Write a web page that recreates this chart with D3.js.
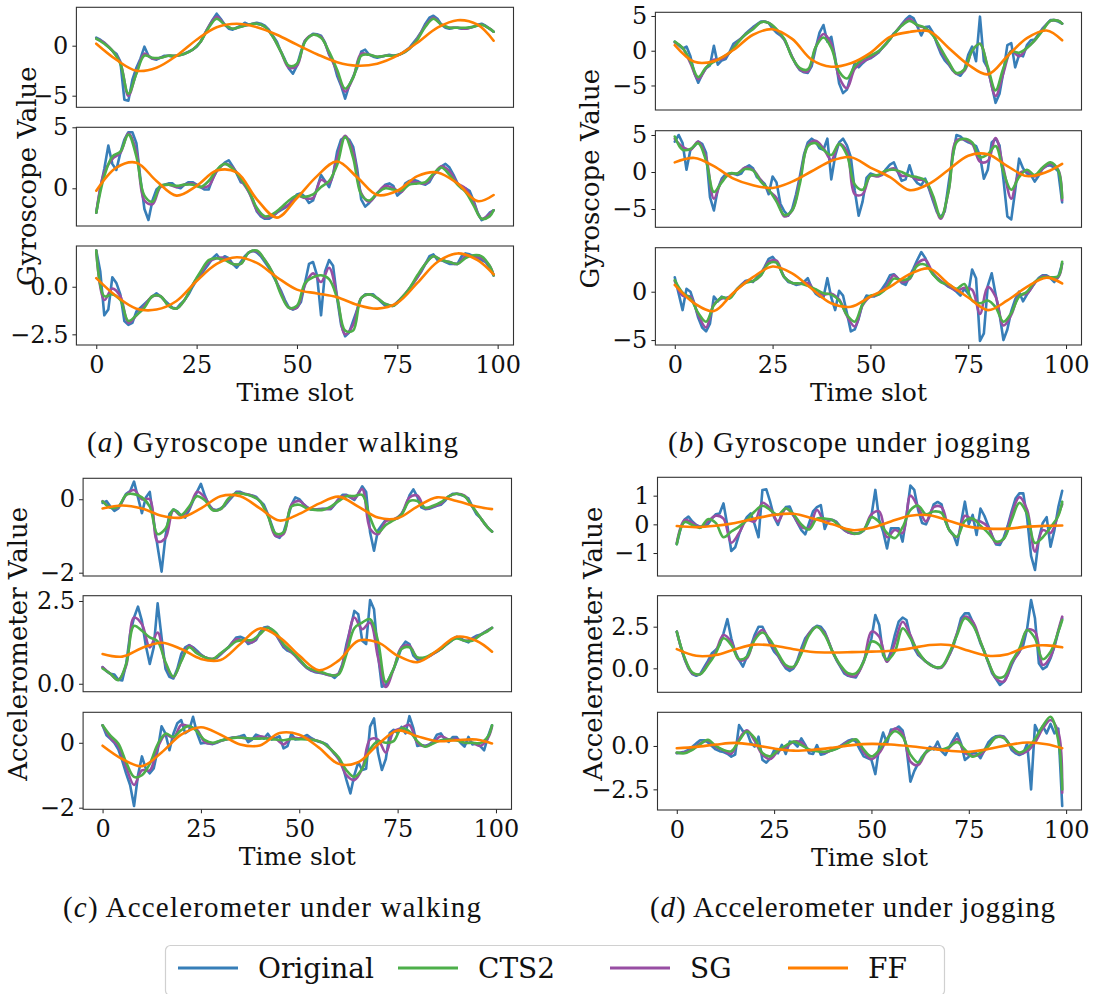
<!DOCTYPE html>
<html>
<head>
<meta charset="utf-8">
<script src="https://cdn.jsdelivr.net/npm/d3@7"></script>
<style>
  body { margin: 0; background: #fff; }
  svg { display: block; }
</style>
</head>
<body>
<svg id="chart" width="1119" height="994"></svg>
<script>
// ---------- time axes ----------
// Original signal: every slot; SG / CTS2 smoothed outputs: every 2nd slot (+ last);
// FF (Fourier filter) output: every 5th slot (+ last).
const slotsAll = d3.range(100);
const slotsHalf = d3.range(0, 100, 2).concat([99]);
const slotsFifth = d3.range(0, 100, 5).concat([99]);
const xTicks = [0, 25, 50, 75, 100];

// ---------- (a) gyroscope, walking ----------
const gyroWalk1_orig = [0.8,0.6,0.3,-0.1,-0.5,-0.8,-1.6,-5.4,-5.5,-3.4,
 -2.2,-1.3,-0.1,-1.0,-1.3,-1.4,-1.2,-1.0,-1.0,-1.1,
 -1.0,-0.9,-0.8,-0.6,-0.4,-0.1,0.4,1.2,1.9,2.6,
 3.2,2.7,2.1,1.7,1.6,1.8,2.0,2.3,2.1,2.2,
 2.3,2.2,2.0,1.6,1.0,0.4,-0.6,-1.4,-2.3,-2.8,
 -2.0,-0.6,0.5,0.9,1.2,1.15,1.0,0.3,-0.9,-1.5,
 -3.0,-4.0,-5.3,-4.0,-3.1,-2.2,-0.6,-0.4,-0.9,-1.1,
 -1.2,-1.1,-1.0,-0.9,-1.0,-1.0,-0.8,-0.5,-0.2,0.3,
 0.8,1.4,2.2,2.8,3.0,2.7,2.1,1.8,1.7,1.8,
 1.8,1.7,1.7,1.8,1.9,2.1,2.2,2.0,1.7,1.4];
const gyroWalk1_sg = [0.7,0.3,-0.5,-1.7,-5.0,-2.7,-0.8,-1.3,-1.2,-1.0,
 -1.0,-0.8,-0.4,0.4,1.9,2.9,2.1,1.7,1.9,2.1,
 2.2,1.9,0.9,-0.6,-2.2,-2.0,0.5,1.1,0.9,-0.8,
 -2.6,-4.6,-3.2,-0.8,-0.9,-1.1,-1.0,-1.0,-0.8,-0.3,
 0.7,2.0,2.8,2.1,1.8,1.8,1.7,1.9,2.1,1.7,1.4];
const gyroWalk1_cts2 = [0.7,0.2,-0.5,-1.8,-4.8,-2.8,-1.0,-1.2,-1.2,-1.0,
 -1.0,-0.8,-0.4,0.4,1.8,2.7,2.1,1.7,1.9,2.1,
 2.2,1.9,0.9,-0.6,-2.0,-1.8,0.4,1.1,0.8,-0.6,
 -2.4,-4.3,-3.2,-1.0,-0.9,-1.1,-1.0,-1.0,-0.8,-0.3,
 0.6,1.9,2.7,2.1,1.8,1.8,1.8,1.9,2.1,1.7,1.4];
const gyroWalk1_ff = [0.2,-1.4,-2.5,-2.2,-1.0,0.6,1.85,2.2,1.85,1.1,0.1,-0.85,-1.65,-2.0,-1.8,-1.0,0.3,1.8,2.55,2.1,0.5];

const gyroWalk2_orig = [-2.0,0.0,1.6,3.5,2.0,1.5,2.9,4.0,4.6,4.6,
 3.7,0.8,-1.7,-2.6,-1.0,-0.1,0.2,0.3,0.4,0.4,
 0.1,0.0,0.3,0.5,0.5,0.3,0.1,-0.1,-0.1,0.8,
 1.4,1.8,2.1,2.3,1.8,1.2,0.5,0.4,-0.3,-0.9,
 -1.9,-2.3,-2.5,-2.5,-2.3,-2.0,-1.8,-1.6,-1.4,-1.1,
 -0.5,-0.4,-0.7,-1.2,-1.0,0.0,1.1,0.6,0.1,1.1,
 3.0,4.0,4.2,4.0,3.4,1.6,-0.9,-1.5,-1.2,-0.8,
 -0.4,-0.1,0.3,0.4,0.2,-0.6,-0.3,0.4,0.6,0.7,
 0.6,0.4,0.3,0.5,1.1,1.4,1.8,2.0,1.7,1.1,
 0.4,0.0,0.0,-0.2,-1.0,-2.0,-2.6,-2.4,-2.0,-1.8];
const gyroWalk2_sg = [-2.0,1.3,2.4,2.9,4.5,3.0,-1.0,-1.3,0.1,0.3,
 0.1,0.3,0.4,0.1,0.2,1.4,2.0,1.7,0.7,-0.3,
 -1.8,-2.4,-2.2,-1.7,-1.3,-0.6,-0.8,-0.8,0.7,0.4,
 2.5,4.3,3.0,-0.4,-1.1,-0.4,0.2,0.0,-0.3,0.5,
 0.5,0.4,1.1,1.8,1.4,0.4,0.0,-1.2,-2.5,-2.1,-1.8];
const gyroWalk2_cts2 = [-2.0,1.0,2.6,3.0,4.4,2.6,-0.6,-1.1,0.2,0.3,
 0.2,0.3,0.3,0.1,0.6,1.5,2.0,1.6,0.8,-0.2,
 -1.6,-2.3,-2.1,-1.6,-1.0,-0.6,-0.7,-0.5,0.1,0.6,
 1.9,4.2,2.5,-0.5,-1.0,-0.4,0.0,-0.1,-0.2,0.3,
 0.4,0.5,1.2,1.7,1.1,0.3,-0.3,-1.4,-2.5,-2.3,-1.8];
const gyroWalk2_ff = [-0.2,1.7,2.1,0.6,-0.6,0.2,1.45,1.3,-0.9,-2.4,-0.8,1.0,2.2,0.9,-0.55,-0.2,1.0,1.3,0.4,-1.05,-0.55];

const gyroWalk3_orig = [1.9,0.8,-1.5,-1.2,0.5,0.2,-0.4,-1.8,-2.0,-1.9,
 -1.3,-1.1,-0.9,-0.7,-0.5,-0.35,-0.5,-0.7,-0.9,-1.1,
 -1.15,-0.9,-0.7,-0.4,0.0,0.35,0.6,0.9,1.2,1.5,
 1.7,1.4,1.6,1.5,1.2,1.0,1.3,1.6,1.8,1.9,
 1.8,1.6,1.3,1.0,0.6,0.2,-0.2,-0.7,-1.1,-1.2,
 -1.1,-0.8,0.2,1.2,1.3,0.6,-1.5,0.8,1.4,1.1,
 -0.6,-2.0,-2.6,-2.4,-1.8,-1.2,-0.6,-0.4,-0.4,-0.4,
 -0.6,-0.8,-1.0,-1.0,-1.0,-0.8,-0.6,-0.4,-0.1,0.2,
 0.5,0.8,1.2,1.6,1.7,1.4,1.4,1.3,1.2,1.2,
 1.2,1.6,1.75,1.7,1.6,1.5,1.4,1.3,1.0,0.6];
const gyroWalk3_sg = [1.9,-0.7,-0.1,-0.5,-1.9,-1.5,-1.0,-0.5,-0.5,-1.0,
 -1.15,-0.7,0.1,0.7,1.3,1.5,1.5,1.2,1.2,1.8,
 1.85,1.4,0.7,-0.3,-1.1,-1.1,0.1,0.7,0.25,1.0,
 -0.5,-2.5,-2.0,-0.6,-0.4,-0.6,-0.9,-1.0,-0.6,-0.1,
 0.5,1.2,1.6,1.4,1.3,1.2,1.6,1.6,1.5,1.1,0.6];
const gyroWalk3_cts2 = [1.9,-0.5,-0.4,-0.7,-1.8,-1.5,-1.1,-0.5,-0.5,-1.0,
 -1.15,-0.7,0.1,0.8,1.4,1.5,1.4,1.2,1.2,1.8,
 1.9,1.4,0.7,-0.4,-1.1,-1.0,0.2,0.5,0.6,0.4,
 -0.6,-2.3,-2.3,-0.6,-0.4,-0.6,-0.9,-1.0,-0.6,-0.1,
 0.6,1.2,1.6,1.4,1.3,1.2,1.5,1.65,1.6,1.1,0.6];
const gyroWalk3_ff = [0.45,-0.5,-1.15,-1.2,-0.75,0.3,1.2,1.55,1.25,0.5,-0.15,-0.35,-0.55,-0.95,-1.15,-0.85,0.2,1.3,1.75,1.4,0.65];

// ---------- (b) gyroscope, jogging ----------
const gyroJog1_orig = [1.3,0.8,0.3,0.6,-0.8,-3.2,-4.6,-3.4,-2.5,-2.1,
 0.7,-2.0,-1.4,-1.2,-0.2,1.0,1.4,1.8,2.4,2.9,
 3.4,3.8,4.2,4.2,4.0,3.2,2.6,2.2,1.6,0.4,
 -0.9,-2.0,-2.8,-3.1,-3.2,-2.2,0.3,2.6,3.7,1.3,
 2.0,-1.0,-4.7,-6.1,-5.6,-3.6,-1.8,-2.4,-1.8,-1.3,
 -1.1,-0.7,-0.3,0.4,1.0,1.7,2.5,3.0,3.8,4.5,
 5.0,4.7,3.5,2.2,3.4,3.5,2.6,1.0,-0.4,-1.4,
 -2.0,-2.8,-3.3,-3.6,-2.8,-0.6,0.6,-1.5,4.9,-1.5,
 -2.5,-5.0,-7.5,-6.2,-3.0,0.8,1.1,-2.4,-0.6,-0.8,
 0.8,1.5,1.6,2.4,3.2,3.8,4.4,4.4,4.2,3.9];
const gyroJog1_sg = [1.2,0.4,-1.8,-4.1,-2.5,-1.3,-1.2,-0.3,1.2,2.3,
 3.2,4.1,4.0,3.0,1.6,-0.9,-2.7,-3.0,0.5,2.4,
 1.0,-3.8,-5.4,-2.6,-1.6,-1.0,-0.2,1.0,2.4,3.7,
 4.6,3.6,3.3,2.3,0.0,-1.8,-3.3,-2.9,0.0,1.0,
 -2.6,-6.5,-3.2,0.0,-0.8,0.4,1.5,3.0,4.3,4.3,3.9];
const gyroJog1_cts2 = [1.3,0.4,-1.5,-3.8,-2.4,-1.6,-1.0,-0.3,1.1,2.3,
 3.1,4.1,4.0,3.1,1.7,-1.0,-2.5,-2.7,0.5,1.9,
 0.4,-3.0,-4.0,-2.2,-1.2,-0.7,-0.1,1.0,2.4,3.6,
 4.3,3.7,3.3,2.2,0.3,-1.6,-3.2,-2.7,0.0,1.0,
 -2.3,-5.7,-2.5,-0.1,-0.3,0.4,1.5,2.9,4.3,4.3,3.9];
const gyroJog1_ff = [0.8,-1.6,-1.5,0.1,2.3,3.1,1.7,-1.3,-2.3,-1.8,-0.3,2.0,2.7,2.8,0.4,-2.0,-3.4,-0.8,1.8,2.9,1.5];

const gyroJog2_orig = [4.1,5.0,3.9,0.3,3.0,3.5,4.1,3.8,2.6,-3.4,
 -5.2,-2.3,-0.9,-0.3,-0.2,-0.2,-0.4,-0.2,0.6,0.9,
 0.5,-0.7,-1.1,-1.6,-3.0,-0.6,-1.4,-4.3,-5.3,-5.9,
 -5.0,-3.0,-0.5,2.3,4.0,4.5,4.1,3.2,3.0,4.5,
 -1.0,2.2,4.0,4.5,3.6,2.0,-2.5,-5.9,-4.0,-0.8,
 -0.2,-0.4,-0.5,-0.4,0.4,1.0,1.3,0.0,-1.2,-1.0,
 0.9,-0.8,-1.5,-1.8,-0.9,-2.3,-3.9,-5.4,-6.1,-5.3,
 -1.5,2.0,5.0,4.8,4.3,4.0,3.8,3.5,2.2,-0.9,
 0.3,4.0,4.5,3.6,-1.0,-6.0,-6.4,-2.5,1.8,0.5,
 -0.2,-0.4,-1.3,-0.5,0.5,0.8,0.9,0.6,0.1,-4.1];
const gyroJog2_sg = [4.5,3.4,3.0,4.1,2.0,-3.6,-1.2,-0.3,-0.2,0.6,
 0.3,-1.1,-2.5,-3.5,-6.0,-5.2,-1.0,3.6,4.2,3.2,
 1.6,3.8,2.8,-3.0,-3.0,-0.5,-0.6,0.1,0.5,-0.5,
 -0.5,-1.0,-1.2,-3.6,-6.3,-2.5,4.3,4.4,3.8,1.4,
 1.5,4.6,0.5,-3.6,-0.2,0.1,-0.6,0.4,1.1,0.3,-3.8];
const gyroJog2_cts2 = [4.8,3.0,3.1,3.9,1.5,-2.7,-1.4,-0.2,-0.2,0.4,
 0.2,-1.3,-2.4,-4.0,-5.8,-5.2,-1.5,3.5,3.9,3.0,
 2.3,3.8,2.3,-1.7,-2.4,-0.5,-0.4,0.2,0.3,0.0,
 -0.5,-0.7,-1.1,-3.2,-6.1,-2.5,4.0,4.5,4.0,2.0,
 2.4,3.5,0.0,-2.4,-0.7,0.3,-0.4,0.6,1.3,0.2,-3.5];
const gyroJog2_ff = [1.3,1.9,0.8,-0.9,-1.8,-2.15,-1.3,0.1,1.5,2.0,0.6,-0.7,-2.45,-1.6,0.3,2.2,2.4,0.8,-0.55,0.0,1.1];

const gyroJog3_orig = [1.5,-0.2,-1.9,0.3,0.0,-1.2,-2.7,-3.7,-4.1,-3.3,
 -0.5,-1.0,-0.5,-0.7,-0.5,-0.2,0.3,0.7,1.1,1.2,
 1.0,1.5,1.9,2.6,3.4,3.6,3.1,2.3,1.5,1.0,
 0.9,0.7,0.8,1.0,1.4,0.4,-0.2,-0.5,-0.6,1.4,
 -0.6,-1.9,0.1,-0.4,-2.2,-4.1,-3.9,-2.8,-1.2,-0.4,
 -0.5,-0.5,-0.2,0.3,0.9,1.7,1.8,1.4,0.9,0.7,
 1.6,2.4,3.3,4.1,3.5,2.5,1.8,1.4,1.1,0.8,
 0.5,0.3,0.0,-0.4,0.3,-0.2,2.3,1.4,-5.1,-4.3,
 0.6,1.9,-0.3,-2.3,-5.0,-3.9,-2.0,-0.8,0.0,-1.0,
 -0.3,0.3,0.9,1.4,1.7,1.7,1.4,1.0,1.5,2.9];
const gyroJog3_sg = [1.1,-0.4,-0.5,-2.4,-3.7,-1.3,-0.7,-0.6,0.3,1.0,
 1.1,1.7,3.1,3.2,1.5,0.9,0.8,0.9,0.0,-0.3,
 -0.2,-0.8,-2.5,-3.6,-1.4,-0.5,-0.3,0.5,1.7,1.0,
 1.3,2.9,3.3,1.9,1.1,0.6,0.1,0.4,0.2,-2.3,
 0.5,-0.5,-3.5,-2.4,-0.4,-0.2,0.9,1.6,1.5,1.5,2.9];
const gyroJog3_cts2 = [1.2,-0.1,-0.7,-2.2,-3.1,-1.4,-0.6,-0.7,0.3,0.9,
 1.1,1.7,2.9,3.0,1.5,0.9,0.85,0.6,0.25,-0.15,
 -0.3,-0.9,-2.4,-3.1,-1.3,-0.4,-0.3,0.3,1.35,1.2,
 1.4,2.7,2.8,1.8,1.0,0.75,0.3,0.8,-0.9,-1.2,
 -0.9,-1.6,-3.1,-2.2,-0.5,0.0,1.0,1.5,1.5,1.6,3.1];
const gyroJog3_ff = [0.7,-1.2,-2.0,-0.1,1.5,2.6,1.9,0.3,-1.2,-1.55,-0.5,0.5,1.8,2.4,0.8,-0.6,-1.9,-0.9,0.5,1.45,0.85];

// ---------- (c) accelerometer, walking ----------
const accWalk1_orig = [-0.1,-0.05,-0.2,-0.32,-0.25,-0.05,0.15,0.22,0.48,0.05,
 -0.38,0.05,0.2,-0.6,-1.3,-1.97,-1.0,-0.4,-0.28,-0.33,
 -0.45,-0.5,-0.3,-0.05,0.2,0.42,0.1,-0.15,-0.27,-0.3,
 -0.25,-0.18,-0.05,0.07,0.2,0.2,0.15,0.12,0.1,0.07,
 -0.05,-0.15,-0.4,-0.7,-1.0,-1.05,-0.9,-0.55,-0.15,0.05,
 0.0,-0.12,-0.22,-0.28,-0.28,-0.27,-0.26,-0.26,-0.27,-0.15,
 0.0,0.12,0.12,0.05,-0.02,0.15,0.35,0.2,-0.9,-1.4,
 -0.85,-0.7,-0.56,-0.56,-0.55,-0.52,-0.4,-0.2,0.1,0.27,
 0.07,-0.22,-0.27,-0.26,-0.22,-0.18,-0.15,-0.05,0.08,0.15,
 0.15,0.12,0.08,0.02,-0.2,-0.4,-0.5,-0.65,-0.78,-0.88];
const accWalk1_sg = [-0.05,-0.22,-0.22,0.12,0.25,0.0,0.0,-1.15,-1.05,-0.3,
 -0.45,-0.25,0.2,0.05,-0.28,-0.27,-0.02,0.18,0.15,0.1,
 -0.05,-0.42,-1.0,-0.95,-0.15,-0.05,-0.22,-0.28,-0.27,-0.25,
 0.0,0.1,0.02,0.28,-0.8,-0.95,-0.6,-0.55,-0.4,0.05,
 0.1,-0.25,-0.2,-0.12,0.08,0.15,0.1,-0.2,-0.5,-0.78,-0.88];
const accWalk1_cts2 = [-0.06,-0.23,-0.2,0.12,0.14,0.05,-0.2,-0.95,-0.8,-0.28,
 -0.43,-0.2,0.08,-0.03,-0.3,-0.27,0.02,0.16,0.14,0.08,
 -0.05,-0.45,-0.93,-0.9,-0.2,-0.15,-0.25,-0.29,-0.29,-0.2,
 -0.05,0.08,0.09,0.12,-0.5,-0.9,-0.7,-0.57,-0.42,-0.05,
 -0.05,-0.23,-0.18,-0.08,0.08,0.15,0.08,-0.2,-0.5,-0.78,-0.88];
const accWalk1_ff = [-0.25,-0.17,-0.25,-0.45,-0.5,-0.25,0.08,0.08,-0.25,-0.58,-0.4,-0.12,0.07,-0.2,-0.5,-0.52,-0.2,0.05,-0.05,-0.2,-0.27];

const accWalk2_orig = [0.5,0.38,0.3,0.28,0.12,0.1,0.6,1.5,2.0,2.33,
 1.9,1.15,0.6,1.1,2.43,1.4,0.45,0.21,0.16,0.45,
 0.9,1.1,1.17,1.1,1.0,0.88,0.8,0.75,0.75,0.78,
 0.88,1.0,1.1,1.25,1.4,1.42,1.37,1.2,1.25,1.32,
 1.55,1.7,1.72,1.63,1.5,1.3,1.1,1.0,0.95,0.85,
 0.7,0.58,0.47,0.4,0.35,0.33,0.31,0.28,0.26,0.18,
 0.3,0.6,1.2,1.67,2.2,2.1,1.3,1.2,2.53,2.25,
 0.9,-0.09,-0.04,0.2,0.45,0.75,1.1,1.27,1.2,0.85,
 0.73,0.74,0.77,0.83,0.9,0.97,1.05,1.15,1.23,1.33,
 1.42,1.38,1.3,1.25,1.38,1.45,1.48,1.55,1.62,1.69];
const accWalk2_sg = [0.5,0.3,0.12,0.55,2.0,1.8,1.1,1.55,0.6,0.2,
 0.7,1.15,0.95,0.8,0.75,0.9,1.1,1.35,1.3,1.25,
 1.5,1.7,1.5,1.15,0.95,0.72,0.48,0.37,0.32,0.25,
 0.3,1.1,2.0,1.65,1.85,0.8,-0.1,0.45,1.1,1.15,
 0.78,0.78,0.9,1.05,1.25,1.4,1.3,1.35,1.47,1.62,1.69];
const accWalk2_cts2 = [0.46,0.3,0.11,0.6,1.75,1.6,1.4,1.28,0.65,0.21,
 0.68,1.1,0.92,0.8,0.75,0.92,1.1,1.28,1.32,1.32,
 1.5,1.69,1.55,1.2,0.98,0.75,0.5,0.4,0.34,0.26,
 0.28,0.9,1.68,1.85,1.95,1.3,0.05,0.46,1.05,1.1,
 0.8,0.8,0.92,1.05,1.25,1.37,1.3,1.3,1.47,1.6,1.69];
const accWalk2_ff = [0.9,0.82,1.08,1.24,1.05,0.75,0.72,1.2,1.67,1.4,0.85,0.41,0.7,1.3,1.25,0.85,0.65,1.0,1.42,1.3,0.97];

const accWalk3_orig = [0.54,0.23,0.12,0.0,-0.2,-0.55,-0.95,-1.3,-1.95,-1.0,
 -0.42,-0.8,-0.94,-0.79,-0.23,0.51,0.28,-0.23,0.28,0.6,
 0.7,0.3,0.38,0.8,0.3,-0.02,0.0,-0.02,-0.04,0.0,
 0.05,0.1,0.13,0.16,0.17,0.2,0.24,0.02,0.1,0.25,
 0.2,0.13,0.28,0.1,0.15,0.2,-0.17,-0.1,0.28,0.1,
 0.12,0.18,0.24,0.15,0.08,0.03,0.0,-0.05,-0.2,-0.35,
 -0.48,-0.7,-1.15,-1.56,-1.0,-0.6,-0.84,-0.8,0.5,0.75,
 -0.3,-0.84,-0.5,0.3,0.4,0.3,0.49,0.29,0.82,0.45,
 -0.1,-0.07,-0.1,-0.05,0.03,0.25,0.29,0.1,0.03,0.18,
 0.18,0.0,-0.12,0.18,-0.05,-0.02,-0.1,-0.23,0.2,0.54];
const accWalk3_sg = [0.54,0.15,-0.1,-0.75,-1.3,-0.85,-0.85,-0.15,0.25,0.15,
 0.55,0.5,0.4,0.02,-0.02,0.06,0.12,0.17,0.15,0.12,
 0.2,0.15,0.12,-0.05,0.15,0.14,0.15,0.08,0.0,-0.2,
 -0.5,-1.0,-1.15,-0.8,0.1,0.1,-0.3,0.35,0.45,0.55,
 0.0,-0.1,0.0,0.2,0.1,0.12,0.0,0.0,-0.1,0.15,0.5];
const accWalk3_cts2 = [0.54,0.22,-0.02,-0.6,-1.05,-1.0,-0.65,-0.05,0.28,0.18,
 0.39,0.52,0.35,0.08,0.0,0.07,0.12,0.16,0.15,0.13,
 0.13,0.13,0.1,0.08,0.12,0.11,0.1,0.08,0.0,-0.2,
 -0.45,-0.85,-1.05,-0.8,-0.2,0.05,0.0,0.05,0.45,0.35,
 0.05,-0.12,-0.02,0.08,0.1,0.07,0.0,0.0,-0.01,0.2,0.54];
const accWalk3_ff = [-0.09,-0.5,-0.72,-0.3,0.25,0.48,0.25,-0.05,-0.08,0.3,0.25,-0.15,-0.65,-0.6,-0.05,0.38,0.2,0.05,0.08,0.1,-0.02];

// ---------- (d) accelerometer, jogging ----------
const accJog1_orig = [-0.69,-0.14,0.17,0.27,0.1,-0.02,-0.08,-0.08,0.0,0.2,
 0.35,0.38,0.73,-0.05,-0.93,-0.8,-0.35,0.0,0.25,0.38,
 0.0,-0.45,1.2,1.22,0.78,0.25,-0.02,0.38,0.6,0.62,
 0.3,0.05,-0.2,-0.35,0.05,0.45,0.6,0.67,-0.16,0.18,
 0.15,0.09,-0.08,-0.2,-0.28,-0.31,-0.31,-0.31,-0.22,0.0,
 0.3,1.2,0.15,-0.25,-0.84,-0.14,-0.14,-0.14,-0.6,0.3,
 1.35,1.2,0.5,0.05,0.0,0.3,0.7,0.78,0.7,0.1,
 -0.2,-0.35,-0.72,0.05,0.79,0.0,0.33,-0.37,0.55,0.3,
 -0.05,-0.4,-0.7,-0.72,-0.45,-0.05,0.45,0.9,1.08,1.08,
 0.2,-1.1,-1.59,-0.5,0.05,0.25,-0.78,-0.2,0.6,1.17];
const accJog1_sg = [-0.65,0.15,0.05,-0.1,0.1,0.3,0.2,-0.64,-0.3,0.15,
 0.1,0.75,0.55,0.1,0.55,0.3,-0.1,-0.1,0.5,0.1,
 0.15,-0.08,-0.28,-0.33,-0.2,0.35,0.45,-0.45,-0.2,-0.3,
 1.0,0.6,0.1,0.6,0.6,-0.2,-0.45,0.3,0.15,0.1,
 -0.1,-0.65,-0.5,0.35,0.95,0.5,-0.95,-0.2,-0.3,0.35,0.7];
const accJog1_cts2 = [-0.69,0.08,-0.02,-0.12,0.18,0.05,-0.45,-0.25,-0.08,0.15,
 0.45,0.65,0.5,0.33,0.56,0.35,0.0,-0.18,0.2,0.2,
 0.15,-0.08,-0.22,-0.33,-0.2,0.25,0.08,-0.3,-0.48,-0.1,
 0.5,0.65,0.35,0.45,0.4,-0.2,-0.43,0.12,0.2,-0.05,
 -0.3,-0.6,-0.5,0.15,0.75,0.35,-0.65,-0.45,-0.1,0.3,0.79];
const accJog1_ff = [-0.06,-0.1,-0.05,0.05,0.2,0.33,0.37,0.2,0.0,-0.2,-0.12,0.1,0.3,0.32,0.12,-0.08,-0.15,-0.15,-0.08,-0.05,-0.04];

const accJog2_orig = [2.2,1.3,0.55,0.0,-0.35,-0.45,-0.35,0.05,0.45,0.9,
 1.1,1.4,2.1,2.95,1.8,1.0,0.5,0.1,0.7,1.3,
 2.0,2.5,2.5,2.0,1.45,1.0,0.75,0.35,0.0,-0.15,
 0.0,0.5,1.2,1.8,2.1,2.4,2.55,2.5,2.2,1.6,
 1.0,0.5,0.1,-0.3,-0.45,-0.5,-0.55,-0.1,0.45,1.0,
 1.8,3.2,2.6,0.8,0.4,1.0,2.0,2.8,3.05,2.9,
 1.9,1.2,0.8,0.6,0.4,0.25,0.1,0.0,0.05,0.35,
 0.8,1.3,2.1,3.0,3.3,3.3,2.8,2.2,1.5,1.0,
 0.35,-0.3,-0.65,-1.0,-0.8,-0.4,0.2,0.7,1.0,1.4,
 2.4,4.1,3.0,0.3,-0.05,0.1,0.6,1.3,2.2,3.0];
const accJog2_sg = [2.2,0.6,-0.3,-0.35,0.3,1.0,2.0,1.6,0.5,0.6,
 1.8,2.3,1.6,0.8,0.1,0.05,1.0,2.1,2.5,2.1,
 1.0,0.15,-0.4,-0.45,0.4,2.2,1.9,0.4,1.5,2.8,
 2.0,0.9,0.4,0.1,0.05,0.8,2.1,3.1,2.8,1.6,
 0.4,-0.6,-0.8,0.3,1.0,2.3,2.2,0.2,0.7,2.3,3.1];
const accJog2_cts2 = [2.2,0.65,-0.25,-0.35,0.2,0.9,1.8,1.4,0.55,0.7,
 1.7,2.15,1.7,0.9,0.2,0.1,0.9,2.0,2.5,2.0,
 1.0,0.2,-0.3,-0.3,0.4,1.6,1.4,0.5,1.0,2.4,
 1.8,1.0,0.4,0.1,0.1,0.9,2.0,3.0,2.6,1.6,
 0.4,-0.5,-0.5,0.4,1.2,2.3,1.8,0.55,1.0,2.2,2.9];
const accJog2_ff = [1.15,0.75,0.8,1.15,1.42,1.35,1.15,0.98,0.95,0.97,1.0,1.05,1.2,1.4,1.4,1.05,0.75,0.85,1.3,1.38,1.26];

const accJog3_orig = [-0.42,-0.38,-0.33,-0.23,-0.05,0.15,0.33,0.33,0.2,0.0,
 -0.2,-0.3,-0.35,-0.45,-0.62,-0.5,1.2,0.85,0.83,0.2,
 -0.04,0.54,-0.8,-0.96,-0.72,-0.25,-0.42,0.06,-0.46,0.25,
 0.2,-0.04,0.44,0.06,-0.42,-0.46,0.05,-0.5,-0.45,-0.3,
 -0.23,-0.15,0.0,0.15,0.3,0.38,0.25,-0.2,-0.6,-0.7,
 -0.8,-1.62,-0.04,0.77,0.15,0.95,0.95,1.12,0.9,-0.1,
 -2.06,-1.45,-1.0,-0.62,-0.35,-0.05,-0.2,0.25,-0.3,-0.52,
 -0.05,0.35,0.73,0.15,-0.81,-0.62,-0.38,-0.42,-0.7,-0.25,
 0.2,0.44,0.56,0.58,0.54,0.25,-0.23,-0.42,-0.52,-0.42,
 0.15,-2.5,1.2,0.73,1.15,0.73,1.27,0.73,1.0,-3.46];
const accJog3_sg = [-0.4,-0.38,-0.2,0.15,0.3,-0.05,-0.25,-0.45,0.4,0.9,
 0.3,-0.5,-0.75,-0.3,-0.1,0.25,0.2,-0.25,-0.25,-0.38,
 -0.22,-0.03,0.25,0.35,-0.35,-0.75,-0.4,0.4,1.0,0.7,
 -0.9,-1.1,-0.4,-0.1,-0.2,-0.1,0.4,-0.4,-0.55,-0.5,
 0.0,0.5,0.5,-0.1,-0.45,-0.3,0.2,1.0,1.5,0.8,-2.7];
const accJog3_cts2 = [-0.38,-0.42,-0.22,0.1,0.35,0.0,-0.23,-0.3,0.3,0.83,
 0.45,-0.4,-0.6,-0.25,0.02,0.25,0.05,-0.2,-0.3,-0.33,
 -0.24,-0.06,0.18,0.38,-0.2,-0.6,-0.23,0.4,0.85,0.54,
 -0.5,-0.95,-0.35,-0.15,-0.2,-0.05,0.22,-0.2,-0.62,-0.38,
 -0.02,0.5,0.45,-0.05,-0.38,-0.15,0.4,1.15,1.68,0.3,-2.5];
const accJog3_ff = [-0.13,-0.05,0.08,0.18,0.05,-0.15,-0.27,-0.22,-0.1,0.05,0.12,0.08,-0.02,-0.15,-0.28,-0.33,-0.18,0.05,0.2,0.1,-0.13];

// ---------- legend / captions ----------
const seriesNames = ["Original", "CTS2", "SG", "FF"];
const captions = [
  { letter: "a", text: " Gyroscope under walking" },
  { letter: "b", text: " Gyroscope under jogging" },
  { letter: "c", text: " Accelerometer under walking" },
  { letter: "d", text: " Accelerometer under jogging" }
];

// ---------- styling ----------
const colors = { orig: "#377eb8", cts2: "#4daf4a", sg: "#984ea3", ff: "#ff7f00" };
const tickFont = "DejaVu Serif";

// ---------- layout (frame geometry of every subplot) ----------
const panels = [
  { x0: 76.4, x1: 513.5, ylabel: "Gyroscope Value", ylabelX: 36, cap: captions[0], capX0: 87, capX1: 458, capY: 452,
    subs: [
      { y0: 7.3, y1: 107.3, dom: [-6.16, 3.84], ticks: [-5, 0], fmt: "d", orig: gyroWalk1_orig, sg: gyroWalk1_sg, cts2: gyroWalk1_cts2, ff: gyroWalk1_ff },
      { y0: 127.3, y1: 226, dom: [-3.09, 5.0], ticks: [0, 5], fmt: "d", orig: gyroWalk2_orig, sg: gyroWalk2_sg, cts2: gyroWalk2_cts2, ff: gyroWalk2_ff },
      { y0: 246, y1: 345, dom: [-3.06, 2.14], ticks: [-2.5, 0], fmt: ".1f", orig: gyroWalk3_orig, sg: gyroWalk3_sg, cts2: gyroWalk3_cts2, ff: gyroWalk3_ff }
    ] },
  { x0: 655.4, x1: 1081.5, ylabel: "Gyroscope Value", ylabelX: 599, cap: captions[1], capX0: 668, capX1: 1030, capY: 452,
    subs: [
      { y0: 12.3, y1: 110, dom: [-8.53, 5.53], ticks: [-5, 0, 5], fmt: "d", orig: gyroJog1_orig, sg: gyroJog1_sg, cts2: gyroJog1_cts2, ff: gyroJog1_ff },
      { y0: 130.7, y1: 227.3, dom: [-7.47, 5.58], ticks: [-5, 0, 5], fmt: "d", orig: gyroJog2_orig, sg: gyroJog2_sg, cts2: gyroJog2_cts2, ff: gyroJog2_ff },
      { y0: 247.7, y1: 345, dom: [-5.51, 4.55], ticks: [-5, 0], fmt: "d", orig: gyroJog3_orig, sg: gyroJog3_sg, cts2: gyroJog3_cts2, ff: gyroJog3_ff }
    ] },
  { x0: 83.1, x1: 511.5, ylabel: "Accelerometer Value", ylabelX: 27, cap: captions[2], capX0: 63, capX1: 481, capY: 917,
    subs: [
      { y0: 478.3, y1: 576, dom: [-2.09, 0.57], ticks: [-2, 0], fmt: "d", orig: accWalk1_orig, sg: accWalk1_sg, cts2: accWalk1_cts2, ff: accWalk1_ff },
      { y0: 595.7, y1: 691.7, dom: [-0.24, 2.66], ticks: [0, 2.5], fmt: ".1f", orig: accWalk2_orig, sg: accWalk2_sg, cts2: accWalk2_cts2, ff: accWalk2_ff },
      { y0: 712.3, y1: 809.3, dom: [-2.05, 0.94], ticks: [-2, 0], fmt: "d", orig: accWalk3_orig, sg: accWalk3_sg, cts2: accWalk3_cts2, ff: accWalk3_ff }
    ] },
  { x0: 657.5, x1: 1081.5, ylabel: "Accelerometer Value", ylabelX: 602, cap: captions[3], capX0: 650, capX1: 1055, capY: 917,
    subs: [
      { y0: 477.3, y1: 576, dom: [-1.80, 1.64], ticks: [-1, 0, 1], fmt: "d", orig: accJog1_orig, sg: accJog1_sg, cts2: accJog1_cts2, ff: accJog1_ff },
      { y0: 595.7, y1: 692.3, dom: [-1.44, 4.36], ticks: [0, 2.5], fmt: ".1f", orig: accJog2_orig, sg: accJog2_sg, cts2: accJog2_cts2, ff: accJog2_ff },
      { y0: 712.3, y1: 810, dom: [-3.69, 1.94], ticks: [-2.5, 0], fmt: ".1f", orig: accJog3_orig, sg: accJog3_sg, cts2: accJog3_cts2, ff: accJog3_ff }
    ] }
];

const svg = d3.select("#chart");
const defs = svg.append("defs");

function pairs(xs, ys) { return ys.map((v, i) => [xs[i], v]); }

panels.forEach((p, pi) => {
  const x = d3.scaleLinear().domain([-4.95, 103.95]).range([p.x0, p.x1]);

  p.subs.forEach((s, si) => {
    const y = d3.scaleLinear().domain(s.dom).range([s.y1, s.y0]);
    const clipId = `clip-${pi}-${si}`;
    defs.append("clipPath").attr("id", clipId)
      .append("rect").attr("x", p.x0).attr("y", s.y0)
      .attr("width", p.x1 - p.x0).attr("height", s.y1 - s.y0);

    const g = svg.append("g");
    const plot = g.append("g").attr("clip-path", `url(#${clipId})`);

    const lines = [
      { data: pairs(slotsAll, s.orig), color: colors.orig, curve: d3.curveLinear },
      { data: pairs(slotsHalf, s.sg), color: colors.sg, curve: d3.curveCatmullRom.alpha(0.5) },
      { data: pairs(slotsHalf, s.cts2), color: colors.cts2, curve: d3.curveCatmullRom.alpha(0.5) },
      { data: pairs(slotsFifth, s.ff), color: colors.ff, curve: d3.curveCatmullRom.alpha(0.5) }
    ];
    lines.forEach(l => {
      plot.append("path")
        .attr("d", d3.line().x(d => x(d[0])).y(d => y(d[1])).curve(l.curve)(l.data))
        .attr("fill", "none")
        .attr("stroke", l.color)
        .attr("stroke-width", 2.6)
        .attr("stroke-linejoin", "round")
        .attr("stroke-linecap", "round");
    });

    // y axis
    const ya = g.append("g").attr("transform", `translate(${p.x0},0)`)
      .call(d3.axisLeft(y).tickValues(s.ticks).tickSize(4).tickPadding(4).tickFormat(d3.format(s.fmt)));
    ya.select(".domain").remove();
    ya.selectAll(".tick line").attr("stroke", "#222");
    ya.selectAll("text").attr("font-family", tickFont).attr("font-size", 24).attr("fill", "#111");

    // bottom x axis only on the last subplot
    if (si === p.subs.length - 1) {
      const xa = g.append("g").attr("transform", `translate(0,${s.y1})`)
        .call(d3.axisBottom(x).tickValues(xTicks).tickSize(4).tickPadding(7).tickFormat(d3.format("d")));
      xa.select(".domain").remove();
      xa.selectAll(".tick line").attr("stroke", "#222");
      xa.selectAll("text").attr("font-family", tickFont).attr("font-size", 24).attr("fill", "#111");

      g.append("text")
        .attr("x", (p.x0 + p.x1) / 2).attr("y", s.y1 + 56)
        .attr("text-anchor", "middle")
        .attr("font-family", tickFont).attr("font-size", 25).attr("fill", "#111")
        .text("Time slot");
    }

    // frame
    g.append("rect")
      .attr("x", p.x0).attr("y", s.y0)
      .attr("width", p.x1 - p.x0).attr("height", s.y1 - s.y0)
      .attr("fill", "none").attr("stroke", "#333").attr("stroke-width", 1.1);
  });

  // shared y label
  const yc = (p.subs[0].y0 + p.subs[p.subs.length - 1].y1) / 2;
  svg.append("text")
    .attr("transform", `translate(${p.ylabelX},${yc}) rotate(-90)`)
    .attr("text-anchor", "middle")
    .attr("font-family", tickFont).attr("font-size", 26).attr("fill", "#111")
    .text(p.ylabel);

  // caption
  const cap = svg.append("text")
    .attr("x", p.capX0).attr("y", p.capY)
    .attr("font-family", "Liberation Serif").attr("font-size", 29).attr("fill", "#111")
    .attr("textLength", p.capX1 - p.capX0).attr("lengthAdjust", "spacing");
  cap.append("tspan").text("(");
  cap.append("tspan").attr("font-style", "italic").text(p.cap.letter);
  cap.append("tspan").text(")" + p.cap.text);
});

// ---------- legend ----------
const legend = svg.append("g");
legend.append("rect")
  .attr("x", 165.5).attr("y", 945.5).attr("width", 779).attr("height", 50)
  .attr("rx", 5).attr("fill", "#fff").attr("stroke", "#d0d0d0").attr("stroke-width", 1.2);
const legendColors = [colors.orig, colors.cts2, colors.sg, colors.ff];
const legendX = [178, 398, 610, 788];
seriesNames.forEach((name, i) => {
  legend.append("line")
    .attr("x1", legendX[i]).attr("x2", legendX[i] + 60)
    .attr("y1", 968).attr("y2", 968)
    .attr("stroke", legendColors[i]).attr("stroke-width", 3);
  legend.append("text")
    .attr("x", legendX[i] + 80).attr("y", 978)
    .attr("font-family", tickFont).attr("font-size", 28).attr("fill", "#111")
    .text(name);
});
</script>
</body>
</html>
